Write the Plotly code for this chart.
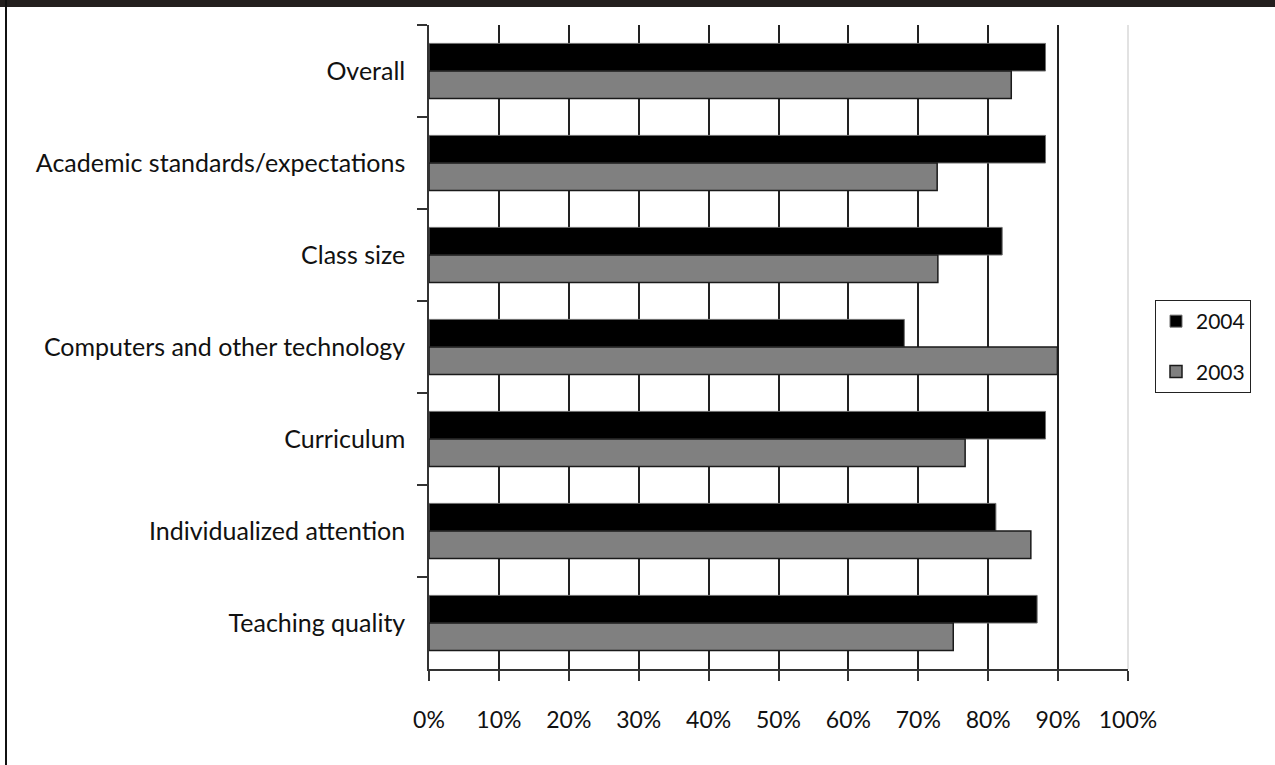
import plotly.graph_objects as go

categories = ["Overall", "Academic standards/expectations", "Class size",
              "Computers and other technology", "Curriculum",
              "Individualized attention", "Teaching quality"]
values_2004 = [88.2, 88.2, 82.0, 68.0, 88.2, 81.1, 87.0]
values_2003 = [83.3, 72.7, 72.8, 89.9, 76.7, 86.1, 75.0]
tick_values = [0, 10, 20, 30, 40, 50, 60, 70, 80, 90, 100]
tick_labels = [f"{v}%" for v in tick_values]
grid_values = [10, 20, 30, 40, 50, 60, 70, 80, 90]

W, H = 1275, 765
L, R, T, B = 429, 147, 25, 96
pw, ph = W - L - R, H - T - B

FONT = "Lato"

fig = go.Figure()
fig.add_trace(go.Bar(
    y=categories, x=values_2004, name="2004", orientation="h",
    legendgroup="a",
    marker=dict(color="#000000", line=dict(color="#6e6e6e", width=1)),
))
fig.add_trace(go.Bar(
    y=categories, x=values_2003, name="2003", orientation="h",
    legendgroup="b",
    marker=dict(color="#808080", line=dict(color="#1a1a1a", width=1.5)),
))

fig.update_layout(
    width=W, height=H, autosize=False,
    margin=dict(l=L, r=R, t=T, b=B),
    paper_bgcolor="white", plot_bgcolor="white",
    barmode="group", bargap=0.4, bargroupgap=0,
    font=dict(family=FONT, size=23, color="#111111"),
    showlegend=True,
    legend=dict(
        xref="paper", yref="paper",
        x=(1155 - L) / pw, y=(H - B - 300) / ph, yanchor="top", xanchor="left",
        bgcolor="white", bordercolor="#222222", borderwidth=1,
        font=dict(family=FONT, size=21, color="#111111"),
        itemwidth=30, tracegroupgap=20,
    ),
)

fig.update_xaxes(
    range=[0, 100], tickvals=tick_values, ticktext=tick_labels,
    showgrid=False, zeroline=False,
    showline=True, linecolor="#333333", linewidth=1.5,
    ticks="outside", ticklen=10, tickcolor="#333333", tickwidth=1.5,
    ticklabelstandoff=20,
    tickfont=dict(family=FONT, size=23, color="#111111"),
    minor=dict(tickvals=grid_values, showgrid=True, gridcolor="#222222",
               gridwidth=1.5, ticks=""),
)
fig.update_yaxes(
    categoryorder="array", categoryarray=categories, autorange="reversed",
    showgrid=False, zeroline=False,
    showline=True, linecolor="#333333", linewidth=1.5,
    ticks="outside", ticklen=10, tickcolor="#333333", tickwidth=1.5,
    tickson="boundaries", ticklabelstandoff=17,
    tickfont=dict(family=FONT, size=25, color="#111111"),
)

# light right edge (100% line)
fig.add_shape(type="line", xref="paper", yref="paper",
              x0=1, x1=1, y0=0, y1=1, line=dict(color="#d9d9d9", width=1.5),
              layer="below")

# top dark band and left border
top = 1 + T / ph
fig.add_shape(type="rect", xref="paper", yref="paper",
              x0=-L / pw, x1=(W - L) / pw, y0=top - 7 / ph, y1=top + 0.01,
              fillcolor="#231f1e", line=dict(width=0), layer="above")
fig.add_shape(type="line", xref="paper", yref="paper",
              x0=(6 - L) / pw, x1=(6 - L) / pw, y0=-B / ph, y1=top,
              line=dict(color="#111111", width=2), layer="above")

fig.write_html(
    "out.html",
    config=dict(displayModeBar=False, responsive=False),
    post_script="document.body.style.margin='0';document.body.style.overflow='hidden';",
)
